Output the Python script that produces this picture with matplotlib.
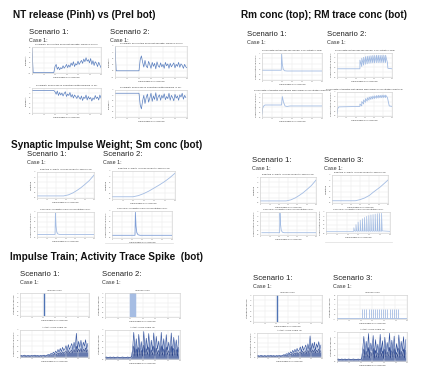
import numpy as np
import matplotlib
matplotlib.use('Agg')
import matplotlib.pyplot as plt

plt.rcParams['font.family'] = ['Liberation Sans', 'DejaVu Sans']

W, H = 425, 370

# === NT release : Pinh (haut) / Prel (bas), un point par seconde ===
pinh_s1 = [0.90, 0.0, 0.0, 0.0, 0.0, 0.0, 0.0, 0.0, 0.0, 0.0, 0.0, 0.0, 0.0, 0.0, 0.0, 0.0, 0.0, 0.0, 0.0, 0.0,
           0.22, 0.30, 0.12, 0.20, 0.10, 0.18, 0.14, 0.25, 0.16, 0.22, 0.30, 0.18, 0.28, 0.20, 0.35, 0.26, 0.40,
           0.22, 0.33, 0.28, 0.42, 0.30, 0.38, 0.45, 0.34, 0.50, 0.40, 0.55, 0.42, 0.48, 0.36, 0.52, 0.30, 0.44,
           0.26, 0.40, 0.34, 0.22, 0.38, 0.28, 0.18]
prel_s1 = [0.90, 0.90, 0.90, 0.90, 0.90, 0.90, 0.90, 0.90, 0.90, 0.90, 0.90, 0.90, 0.90, 0.90, 0.90, 0.90, 0.90,
           0.90, 0.90, 0.90,
           0.85, 0.75, 0.88, 0.70, 0.82, 0.72, 0.80, 0.68, 0.78, 0.85, 0.66, 0.76, 0.70, 0.82, 0.64, 0.74, 0.60,
           0.72, 0.66, 0.58, 0.70, 0.62, 0.55, 0.68, 0.50, 0.64, 0.58, 0.72, 0.52, 0.66, 0.56, 0.62, 0.48, 0.60,
           0.54, 0.70, 0.58, 0.64, 0.52, 0.72, 0.60]
pinh_s2 = [0.95, 0.0, 0.0, 0.0, 0.0, 0.0, 0.0, 0.0, 0.0, 0.0, 0.0, 0.0, 0.0, 0.0, 0.0, 0.0, 0.0, 0.0, 0.0, 0.0, 0.0,
           0.45, 0.60, 0.35, 0.15, 0.42, 0.20, 0.12, 0.38, 0.25, 0.10, 0.34, 0.18, 0.30, 0.08, 0.36, 0.20, 0.14,
           0.32, 0.16, 0.26, 0.10, 0.34, 0.20, 0.28, 0.10, 0.30, 0.16, 0.24, 0.32, 0.12, 0.26, 0.18, 0.34, 0.14,
           0.28, 0.22, 0.10, 0.26, 0.16, 0.12]
prel_s2 = [0.88, 0.88, 0.88, 0.88, 0.88, 0.88, 0.88, 0.88, 0.88, 0.88, 0.88, 0.88, 0.88, 0.88, 0.88, 0.88, 0.88,
           0.88, 0.88, 0.88, 0.88,
           0.45, 0.30, 0.60, 0.80, 0.50, 0.72, 0.85, 0.55, 0.70, 0.88, 0.58, 0.78, 0.65, 0.90, 0.60, 0.75, 0.82,
           0.62, 0.80, 0.70, 0.86, 0.64, 0.76, 0.68, 0.88, 0.62, 0.80, 0.72, 0.60, 0.84, 0.70, 0.78, 0.62, 0.82,
           0.74, 0.88, 0.66, 0.80, 0.72]

# === Rm conc (haut) / RM trace (bas) ===
rm_t_s1 = [0, 19.3, 19.6, 20.3, 21.2, 22.5, 25, 60]
rm_s1 = [0.38, 0.38, 1.00, 0.62, 0.42, 0.36, 0.35, 0.35]
rmt_t_s1 = [0, 0.6, 1.5, 3, 19.5, 20.3, 21.5, 23, 25, 28, 60]
rmt_s1 = [0.12, 0.35, 0.45, 0.50, 0.50, 0.85, 0.62, 0.46, 0.44, 0.46, 0.46]
rm_pics_s2 = [0.74, 0.82, 0.86, 0.89, 0.91, 0.92, 0.93, 0.94, 0.94, 0.95, 0.95, 0.95, 0.95, 0.95, 0.95]
rm_creux_s2 = [0.46, 0.52, 0.56, 0.58, 0.60, 0.61, 0.62, 0.62, 0.63, 0.63, 0.63, 0.63, 0.63, 0.63, 0.63]
rmt_pics_s2 = [0.50, 0.60, 0.67, 0.72, 0.76, 0.79, 0.81, 0.83, 0.84, 0.85, 0.86, 0.86, 0.87, 0.87, 0.87]
rmt_creux_s2 = [0.42, 0.50, 0.57, 0.62, 0.66, 0.69, 0.71, 0.73, 0.74, 0.75, 0.76, 0.76, 0.77, 0.77, 0.77]

# === Poids synaptique / Sm conc ===
w_t_s1 = [0, 28, 33, 38, 42, 46, 50, 55, 60]
w_s1 = [0.08, 0.08, 0.12, 0.20, 0.29, 0.39, 0.51, 0.67, 0.88]
w_t_s2 = [0, 20, 25, 30, 35, 40, 45, 50, 55, 60]
w_s2 = [0.08, 0.08, 0.12, 0.19, 0.28, 0.39, 0.50, 0.62, 0.76, 0.92]
w_t_s3 = [0, 25, 30, 35, 40, 44, 48, 52, 56, 60]
w_s3 = [0.08, 0.08, 0.12, 0.18, 0.27, 0.38, 0.48, 0.58, 0.70, 0.82]
sm_t_s1 = [0, 19.0, 19.4, 20.0, 20.8, 22, 24, 60]
sm_s1 = [0.10, 0.10, 0.95, 0.45, 0.20, 0.12, 0.10, 0.10]
sm_t_s2 = [0, 23.0, 23.4, 24.0, 24.8, 26, 28, 60]
sm_s2 = [0.10, 0.10, 0.95, 0.45, 0.20, 0.12, 0.10, 0.10]
sm_pics_s3 = [0.25, 0.40, 0.52, 0.61, 0.68, 0.74, 0.79, 0.83, 0.86, 0.88, 0.90, 0.92, 0.93, 0.94]

# === Train d'impulsions / trace d'activite ===
imp_s1 = [21.0]
imp_s2 = [20.0, 20.3, 20.6, 20.9, 21.2, 21.5, 21.8, 22.1, 22.4, 22.7, 23.0, 23.3, 23.6, 23.9]
imp_s3 = [21.6, 23.4, 25.2, 27.0, 28.8, 30.6, 32.4, 34.2, 36.0, 37.8, 39.6, 41.4, 43.2, 45.0, 46.8, 48.6,
          50.4, 52.2]
act_s1 = [0.05, 0.06, 0.04, 0.05, 0.07, 0.05, 0.04, 0.06, 0.05, 0.04, 0.06, 0.05, 0.05, 0.07, 0.04, 0.06, 0.05,
          0.04, 0.06, 0.05, 0.05, 0.07, 0.04, 0.06, 0.08, 0.10, 0.07, 0.14, 0.10, 0.18, 0.12, 0.22, 0.15, 0.28,
          0.18, 0.32, 0.20, 0.36, 0.24, 0.30, 0.42, 0.22, 0.46, 0.28, 0.38, 0.50, 0.26, 0.55, 0.32, 0.88, 0.30,
          0.58, 0.36, 0.62, 0.28, 0.55, 0.40, 0.64, 0.30, 0.50]
act_s1_lo = [0.03, 0.04, 0.03, 0.04, 0.04, 0.03, 0.03, 0.04, 0.03, 0.03, 0.04, 0.03, 0.04, 0.04, 0.03, 0.04, 0.03,
             0.03, 0.04, 0.03, 0.04, 0.04, 0.03, 0.04, 0.05, 0.06, 0.05, 0.08, 0.06, 0.10, 0.08, 0.12, 0.09, 0.15,
             0.11, 0.17, 0.12, 0.19, 0.14, 0.17, 0.22, 0.14, 0.24, 0.16, 0.21, 0.26, 0.15, 0.28, 0.18, 0.40, 0.18,
             0.30, 0.20, 0.32, 0.17, 0.29, 0.22, 0.33, 0.18, 0.27]
act_s2 = [0.06, 0.07, 0.06, 0.05, 0.07, 0.06, 0.06, 0.07, 0.05, 0.06, 0.07, 0.06, 0.05, 0.06, 0.07, 0.06, 0.06,
          0.05, 0.07, 0.06, 0.06, 0.07,
          0.30, 0.92, 0.20, 0.70, 0.15, 0.85, 0.25, 0.60, 0.18, 0.95, 0.22, 0.72, 0.30, 0.88, 0.16, 0.65, 0.28,
          0.90, 0.20, 0.78, 0.35, 0.62, 0.18, 0.92, 0.26, 0.70, 0.15, 0.84, 0.30, 0.58, 0.22, 0.90, 0.20, 0.75,
          0.28, 0.66, 0.18, 0.80]
act_s2_lo = [0.04, 0.05, 0.04, 0.04, 0.05, 0.04, 0.04, 0.05, 0.04, 0.04, 0.05, 0.04, 0.04, 0.04, 0.05, 0.04, 0.04,
             0.04, 0.05, 0.04, 0.04, 0.05,
             0.15, 0.45, 0.10, 0.35, 0.08, 0.40, 0.12, 0.30, 0.09, 0.48, 0.11, 0.36, 0.15, 0.42, 0.08, 0.32, 0.14,
             0.45, 0.10, 0.38, 0.17, 0.30, 0.09, 0.46, 0.13, 0.35, 0.08, 0.42, 0.15, 0.29, 0.11, 0.45, 0.10, 0.37,
             0.14, 0.33, 0.09, 0.40]
act_s3 = [0.06, 0.07, 0.06, 0.05, 0.07, 0.06, 0.06, 0.07, 0.05, 0.06, 0.07, 0.06, 0.05, 0.06, 0.07, 0.06, 0.06,
          0.05, 0.07, 0.06, 0.06, 0.07,
          0.40, 0.85, 0.22, 0.68, 0.30, 0.95, 0.20, 0.62, 0.35, 0.88, 0.18, 0.74, 0.28, 0.58, 0.20, 0.92, 0.32,
          0.70, 0.16, 0.82, 0.26, 0.64, 0.34, 0.96, 0.20, 0.72, 0.28, 0.86, 0.18, 0.60, 0.30, 0.90, 0.22, 0.68,
          0.35, 0.84, 0.20, 0.74]
act_s3_lo = [0.04, 0.05, 0.04, 0.04, 0.05, 0.04, 0.04, 0.05, 0.04, 0.04, 0.05, 0.04, 0.04, 0.04, 0.05, 0.04, 0.04,
             0.04, 0.05, 0.04, 0.04, 0.05,
             0.20, 0.42, 0.11, 0.34, 0.15, 0.47, 0.10, 0.31, 0.17, 0.44, 0.09, 0.37, 0.14, 0.29, 0.10, 0.46, 0.16,
             0.35, 0.08, 0.41, 0.13, 0.32, 0.17, 0.48, 0.10, 0.36, 0.14, 0.43, 0.09, 0.30, 0.15, 0.45, 0.11, 0.34,
             0.17, 0.42, 0.10, 0.37]

# textes
titre_inh = "Probability of Inhibition of Neurotransmitter Release (P inh)"
titre_rel = "Probability of Release of Neurotransmitter Release (P rel)"
titre_rm = "Presynaptic Retrograde Messenger Concentration (Rm)"
titre_rmt = "Presynaptic Integrated Retrograde Messenger Concentration (RMtrace)"
titre_w = "Effective Synaptic Impulse Weight of Neuron (w)"
titre_sm = "Secondary Mediator (SPS) Concentration (Sm)"
titre_imp = "Impulse Train"
titre_act = "Activity Trace Spike (E)"
xlab = "Time Elapsed (in seconds)"

fig = plt.figure(figsize=(W / 100, H / 100), dpi=100)


def axe(box, titre, ylab, ylim=(0, 1)):
    x0, y0, x1, y1 = box
    ax = fig.add_axes([x0 / W, 1 - y1 / H, (x1 - x0) / W, (y1 - y0) / H])
    ax.set_xlim(0, 60)
    ax.set_ylim(*ylim)
    ax.set_xticks(np.arange(0, 61, 10))
    ax.set_yticks(np.linspace(ylim[0], ylim[1], 6))
    ax.set_yticklabels([f"{v:.1f}" for v in np.linspace(ylim[0], ylim[1], 6)])
    ax.set_title(titre, fontsize=1.7, pad=1.2, color='#333333')
    ax.set_xlabel(xlab, fontsize=1.6, labelpad=1.2, color='#333333')
    ax.set_ylabel(ylab, fontsize=1.6, labelpad=1.2, color='#333333')
    ax.tick_params(labelsize=1.2, length=0, pad=0.8, colors='#777777')
    ax.grid(True, color='#e6e6e6', lw=0.3)
    for s in ax.spines.values():
        s.set_color('#cccccc')
        s.set_linewidth(0.4)
    return ax


def texte(x, y, s, **kw):
    fig.text(x / W, 1 - y / H, s, va='center', ha='left', **kw)


def dents(t0, per, bas, pics, creux):
    # montee brusque puis decroissance jusqu'au creux suivant
    xs, ys = [0, t0], [bas, bas]
    for k in range(len(pics)):
        tk = t0 + k * per
        xs += [tk, tk + per]
        ys += [pics[k], creux[k]]
    return xs, ys


def trace_activite(ax, y, y_lo):
    t = np.arange(len(y))
    ax.fill_between(t, 0, y, color='#3a5fae', alpha=0.3, lw=0)
    ax.fill_between(t, 0, y_lo, color='#1a3580', alpha=0.55, lw=0)
    ax.plot(t, y, color='#2a4b9a', lw=0.4)
    ax.plot(t, y_lo, color='#16307a', lw=0.3)


# --- titres de blocs ---
tk = dict(fontsize=7.2, fontweight='bold', color='#111111')
texte(13, 15, "NT release (Pinh) vs (Prel bot)", **tk)
texte(241, 15, "Rm conc (top); RM trace conc (bot)", **tk)
texte(11, 145, "Synaptic Impulse Weight; Sm conc (bot)", **tk)
texte(10, 257, "Impulse Train; Activity Trace Spike  (bot)", **tk)

sc = dict(fontsize=5.6, color='#222222')
cs = dict(fontsize=3.9, color='#333333')
for (x, y, s) in [(29, 33, "Scenario 1:"), (110, 33, "Scenario 2:"),
                  (247, 35, "Scenario 1:"), (327, 35, "Scenario 2:"),
                  (27, 155, "Scenario 1:"), (103, 155, "Scenario 2:"),
                  (252, 161, "Scenario 1:"), (324, 161, "Scenario 3:"),
                  (20, 275, "Scenario 1:"), (102, 275, "Scenario 2:"),
                  (253, 279, "Scenario 1:"), (333, 279, "Scenario 3:")]:
    texte(x, y, s, **sc)
    texte(x, y + 8, "Case 1:", **cs)

# --- NT release ---
bleu = '#5a7fbf'
ax = axe((32, 47, 101, 73), titre_inh, "Probability", (-0.02, 0.95))
ax.plot(np.arange(len(pinh_s1)), pinh_s1, color=bleu, lw=0.5)
ax = axe((32, 88, 101, 113), titre_rel, "Probability", (0, 1))
ax.plot(np.arange(len(prel_s1)), prel_s1, color=bleu, lw=0.5)
ax = axe((115, 46, 187, 77), titre_inh, "Probability", (-0.25, 1.0))
ax.plot(np.arange(len(pinh_s2)), pinh_s2, color=bleu, lw=0.5)
ax = axe((115, 90, 187, 117), titre_rel, "Probability", (0, 1))
ax.plot(np.arange(len(prel_s2)), prel_s2, color=bleu, lw=0.5)

# --- Rm ---
pale = '#a3bce3'
ax = axe((262, 53, 322, 80), titre_rm, "Concentration (in Moles)", (0, 1.05))
ax.plot(rm_t_s1, rm_s1, color=pale, lw=0.6)
ax = axe((262, 93, 322, 117), titre_rmt, "Concentration (in Moles)", (0, 1.0))
ax.plot(rmt_t_s1, rmt_s1, color=pale, lw=0.6)
ax = axe((337, 53, 392, 77), titre_rm, "Concentration (in Moles)", (0, 1.05))
xs, ys = dents(25, 2, 0.36, rm_pics_s2, rm_creux_s2)
ax.plot(xs + [55.5, 60], ys + [0.38, 0.36], color=pale, lw=0.6)
ax = axe((337, 92, 392, 116), titre_rmt, "Concentration (in Moles)", (0, 1.0))
xs, ys = dents(25, 2, 0.40, rmt_pics_s2, rmt_creux_s2)
ax.plot([0, 0.7, 2] + xs[1:] + [57, 60], [0.10, 0.30, 0.38] + ys[1:] + [0.42, 0.40], color=pale, lw=0.6)

# --- poids synaptique / Sm ---
ax = axe((37, 172, 94, 198), titre_w, "Weighting")
ax.plot(w_t_s1, w_s1, color=pale, lw=0.6)
ax = axe((37, 212, 94, 237), titre_sm, "Concentration (in Moles)")
ax.plot(sm_t_s1, sm_s1, color=pale, lw=0.6)
ax = axe((112, 171, 175, 199), titre_w, "Weighting")
ax.plot(w_t_s2, w_s2, color=pale, lw=0.6)
ax = axe((112, 211, 172, 238), titre_sm, "Concentration (in Moles)")
ax.plot(sm_t_s2, sm_s2, color='#7f9ed6', lw=0.6)

ax = axe((260, 177, 316, 203), titre_w, "Weighting")
ax.plot(w_t_s1, w_s1, color=pale, lw=0.6)
ax = axe((260, 212, 316, 235), titre_sm, "Concentration (in Moles)")
ax.plot([v + 2 for v in sm_t_s1], sm_s1, color=pale, lw=0.6)
ax = axe((332, 175, 388, 203), titre_w, "Weighting")
ax.plot(w_t_s3, w_s3, color=pale, lw=0.6)
ax = axe((326, 212, 390, 233), titre_sm, "Concentration (in Moles)")
xs, ys = [0], [0.08]
for k, p in enumerate(sm_pics_s3):
    tp = 26 + 2 * k
    xs += [tp, tp + 0.1, tp + 0.7]
    ys += [0.08, p, 0.10]
ax.plot(xs + [60], ys + [0.08], color=pale, lw=0.5)

# --- impulsions / activite ---
fonce = '#4f74b5'
ax = axe((20, 293, 89, 316), titre_imp, "Strength of Impulse")
ax.vlines(imp_s1, 0, 1, color=fonce, lw=1.0)
ax = axe((20, 330, 89, 357), titre_act, "Concentration (in Moles)")
trace_activite(ax, act_s1, act_s1_lo)
ax = axe((105, 293, 180, 317), titre_imp, "Strength of Impulse")
ax.vlines(imp_s2, 0, 1, color='#a6bde3', lw=0.9)
ax = axe((105, 330, 180, 359), titre_act, "Strength of Impulse")
trace_activite(ax, act_s2, act_s2_lo)

ax = axe((253, 295, 322, 322), titre_imp, "Strength of Impulse")
ax.vlines(imp_s1, 0, 1, color=fonce, lw=1.0)
ax = axe((257, 333, 322, 357), titre_act, "Concentration (in Moles)")
trace_activite(ax, act_s1, act_s1_lo)
ax = axe((337, 295, 407, 319), titre_imp, "Strength of Impulse", (-0.1, 2.5))
ax.axhline(0, color='#a6bde3', lw=0.6)
ax.vlines(imp_s3, 0, 1, color='#a6bde3', lw=0.6)
ax = axe((337, 332, 407, 361), titre_act, "Strength of Impulse")
trace_activite(ax, act_s3, act_s3_lo)

# bords des captures d'ecran
fig.add_artist(plt.Line2D([105 / W, 173 / W], [1 - 243 / H] * 2, color='#dddddd', lw=0.5))
fig.add_artist(plt.Line2D([325 / W, 392 / W], [1 - 242 / H] * 2, color='#dddddd', lw=0.5))

fig.savefig("out.png", dpi=100)
